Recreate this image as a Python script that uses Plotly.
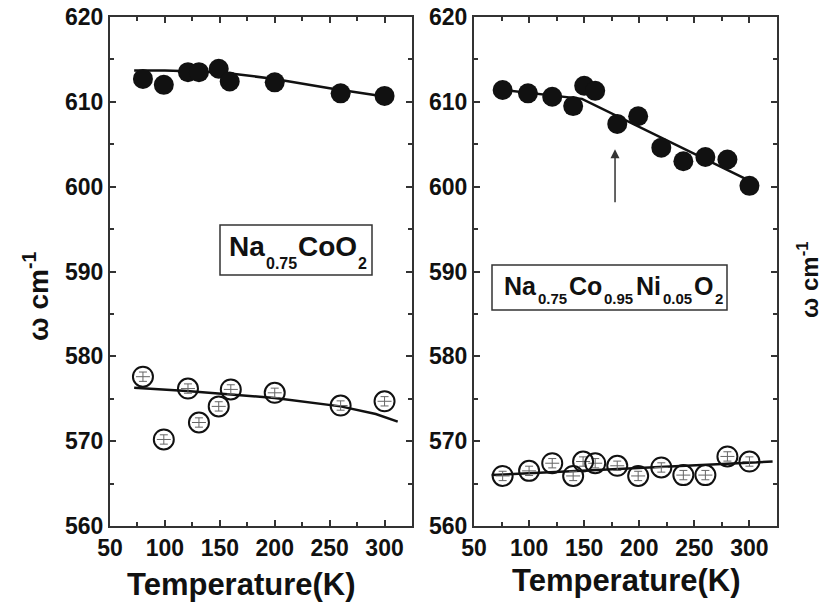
import plotly.graph_objects as go

# ---- data ----
# Left panel: Na0.75CoO2
T_left_high = [80, 99, 121, 131, 149, 159, 200, 260, 300]
w_left_high = [612.7, 612.0, 613.5, 613.5, 613.9, 612.4, 612.3, 611.0, 610.7]
T_left_low = [80, 99, 121, 131, 149, 160, 200, 260, 300]
w_left_low = [577.6, 570.2, 576.2, 572.2, 574.1, 576.1, 575.7, 574.2, 574.7]
fitT_left_high = [72, 100, 150, 200, 250, 306]
fitw_left_high = [613.7, 613.7, 613.5, 612.7, 611.6, 610.5]
fitT_left_low = [72, 120, 200, 260, 292, 312]
fitw_left_low = [576.3, 575.9, 575.1, 574.1, 573.2, 572.3]

# Right panel: Na0.75Co0.95Ni0.05O2
T_right_high = [76, 99, 121, 140, 150, 160, 180, 199, 220, 240, 260, 280, 300]
w_right_high = [611.4, 611.0, 610.6, 609.5, 611.9, 611.3, 607.4, 608.3, 604.6, 603.0, 603.5, 603.2, 600.1]
T_right_low = [76, 100, 121, 140, 149, 160, 180, 199, 220, 240, 260, 280, 300]
w_right_low = [565.9, 566.5, 567.4, 565.9, 567.6, 567.4, 567.1, 565.9, 566.9, 566.0, 566.0, 568.2, 567.6]
fitT_right_high = [69, 148, 303]
fitw_right_high = [611.5, 610.35, 600.5]
fitT_right_low = [66, 321]
fitw_right_low = [566.0, 567.6]

err_low = 0.55
arrow_T = 178
arrow_head, arrow_tail = 604.4, 598.0

x_ticks = [50, 100, 150, 200, 250, 300]
y_ticks = [560, 570, 580, 590, 600, 610, 620]

# formula labels: (text, is_subscript)
formula_left = [("Na", False), ("0.75", True), ("CoO", False), ("2", True)]
formula_right = [("Na", False), ("0.75", True), ("Co", False), ("0.95", True),
                 ("Ni", False), ("0.05", True), ("O", False), ("2", True)]
y_title = "ω cm<sup>-1</sup>"
x_title = "Temperature(K)"

FONT = "Liberation Sans, Arial, sans-serif"
INK = "#111111"
W, H = 822, 603

# Arial/Liberation Sans Bold advance widths (em)
ADV = {"N": .722, "a": .556, "C": .722, "o": .611, "O": .778, "i": .278,
       "0": .556, "2": .556, "5": .556, "7": .556, "9": .556, ".": .278}

fig = go.Figure()


def add_panel(xa, ya, Th, wh, Tl, wl, fTh, fwh, fTl, fwl):
    fig.add_trace(go.Scatter(x=fTh, y=fwh, mode="lines", xaxis=xa, yaxis=ya,
                             line=dict(color=INK, width=2.5), showlegend=False))
    fig.add_trace(go.Scatter(x=fTl, y=fwl, mode="lines", xaxis=xa, yaxis=ya,
                             line=dict(color=INK, width=2.5), showlegend=False))
    fig.add_trace(go.Scatter(x=Th, y=wh, mode="markers", xaxis=xa, yaxis=ya,
                             marker=dict(symbol="circle", size=20, color=INK,
                                         line=dict(width=0)), showlegend=False))
    fig.add_trace(go.Scatter(x=Tl, y=wl, mode="markers", xaxis=xa, yaxis=ya,
                             marker=dict(symbol="line-ew", size=10,
                                         line=dict(width=1, color="#666666")),
                             error_y=dict(type="constant", value=err_low, thickness=1,
                                          width=4, color="#666666"),
                             showlegend=False))
    fig.add_trace(go.Scatter(x=Tl, y=wl, mode="markers", xaxis=xa, yaxis=ya,
                             marker=dict(symbol="circle-open", size=20, color=INK,
                                         line=dict(width=2, color=INK)),
                             showlegend=False))


add_panel("x", "y", T_left_high, w_left_high, T_left_low, w_left_low,
          fitT_left_high, fitw_left_high, fitT_left_low, fitw_left_low)
add_panel("x2", "y2", T_right_high, w_right_high, T_right_low, w_right_low,
          fitT_right_high, fitw_right_high, fitT_right_low, fitw_right_low)

tickfont = dict(family=FONT, size=23, color=INK, weight="bold")


def xaxis_cfg(domain, anchor):
    return dict(domain=domain, anchor=anchor, range=[50, 325], tickmode="array",
                tickvals=x_ticks, ticktext=[str(v) for v in x_ticks],
                ticks="inside", ticklen=6, tickwidth=1.5, tickcolor="#333",
                showline=True, linewidth=2, linecolor="#333", mirror="ticks",
                showgrid=False, zeroline=False, tickfont=tickfont, automargin=False,
                minor=dict(dtick=25, tick0=50, ticks="inside", ticklen=4,
                           tickcolor="#333", showgrid=False))


def yaxis_cfg(anchor):
    return dict(domain=[1 - 526 / H, 1 - 17 / H], anchor=anchor, range=[560, 620],
                tickmode="array", tickvals=y_ticks,
                ticktext=[str(v) for v in y_ticks], ticks="inside", ticklen=6,
                tickwidth=1.5, tickcolor="#333", showline=True, linewidth=2,
                linecolor="#333", mirror="ticks", showgrid=False, zeroline=False,
                tickfont=tickfont, automargin=False,
                minor=dict(dtick=5, tick0=560, ticks="inside", ticklen=4,
                           tickcolor="#333", showgrid=False))


fig.update_layout(
    template="none",
    width=W, height=H,
    margin=dict(l=0, r=0, t=0, b=0, pad=0, autoexpand=False),
    paper_bgcolor="white", plot_bgcolor="white",
    xaxis=xaxis_cfg([110 / W, 412 / W], "y"),
    yaxis=yaxis_cfg("x"),
    xaxis2=xaxis_cfg([474 / W, 777 / W], "y2"),
    yaxis2=yaxis_cfg("x2"),
)

# x titles
xt_font = dict(family=FONT, size=31, color=INK, weight="bold")
fig.add_annotation(text=x_title, xref="paper", yref="paper", x=242 / W,
                   y=1 - 584 / H, showarrow=False, font=xt_font,
                   xanchor="center", yanchor="middle")
fig.add_annotation(text=x_title, xref="paper", yref="paper", x=626 / W,
                   y=1 - 580 / H, showarrow=False, font=xt_font,
                   xanchor="center", yanchor="middle")

# y titles
fig.add_annotation(text=y_title, xref="paper", yref="paper",
                   x=36 / W, y=1 - 297 / H, showarrow=False, textangle=-90,
                   font=dict(family=FONT, size=28, color=INK, weight="bold"),
                   xanchor="center", yanchor="middle")
fig.add_annotation(text=y_title, xref="paper", yref="paper",
                   x=808 / W, y=1 - 280 / H, showarrow=False, textangle=-90,
                   font=dict(family=FONT, size=24, color=INK, weight="bold"),
                   xanchor="center", yanchor="middle")


def place_formula(pieces, x_start, gap, base_main, base_sub, size_main, size_sub):
    xl = x_start
    for txt, sub in pieces:
        size = size_sub if sub else size_main
        base = base_sub if sub else base_main
        ybot = base + 0.212 * size + 1
        fig.add_annotation(text=txt, xref="paper", yref="paper",
                           x=(xl - 1) / W, y=1 - ybot / H, xanchor="left",
                           yanchor="bottom", showarrow=False,
                           font=dict(family=FONT, size=size, color=INK,
                                     weight="bold"))
        xl += sum(ADV[c] for c in txt) * size + gap


# boxes around the formulas
fig.add_shape(type="rect", xref="paper", yref="paper",
              x0=220 / W, x1=372 / W, y0=1 - 275 / H, y1=1 - 225 / H,
              line=dict(color="#333", width=1.5), fillcolor="rgba(0,0,0,0)")
fig.add_shape(type="rect", xref="paper", yref="paper",
              x0=492 / W, x1=727 / W, y0=1 - 310 / H, y1=1 - 265 / H,
              line=dict(color="#333", width=1.5), fillcolor="rgba(0,0,0,0)")

place_formula(formula_left, 228, 1, 257, 270, 28, 16)
place_formula(formula_right, 503, 2, 296, 305, 25, 15)

# arrow in right panel
fig.add_annotation(x=arrow_T, y=arrow_head, ax=arrow_T, ay=arrow_tail,
                   xref="x2", yref="y2", axref="x2", ayref="y2",
                   showarrow=True, arrowhead=2, arrowsize=1.2, arrowwidth=1.5,
                   arrowcolor="#333", text="")

fig.write_html("out.html")
